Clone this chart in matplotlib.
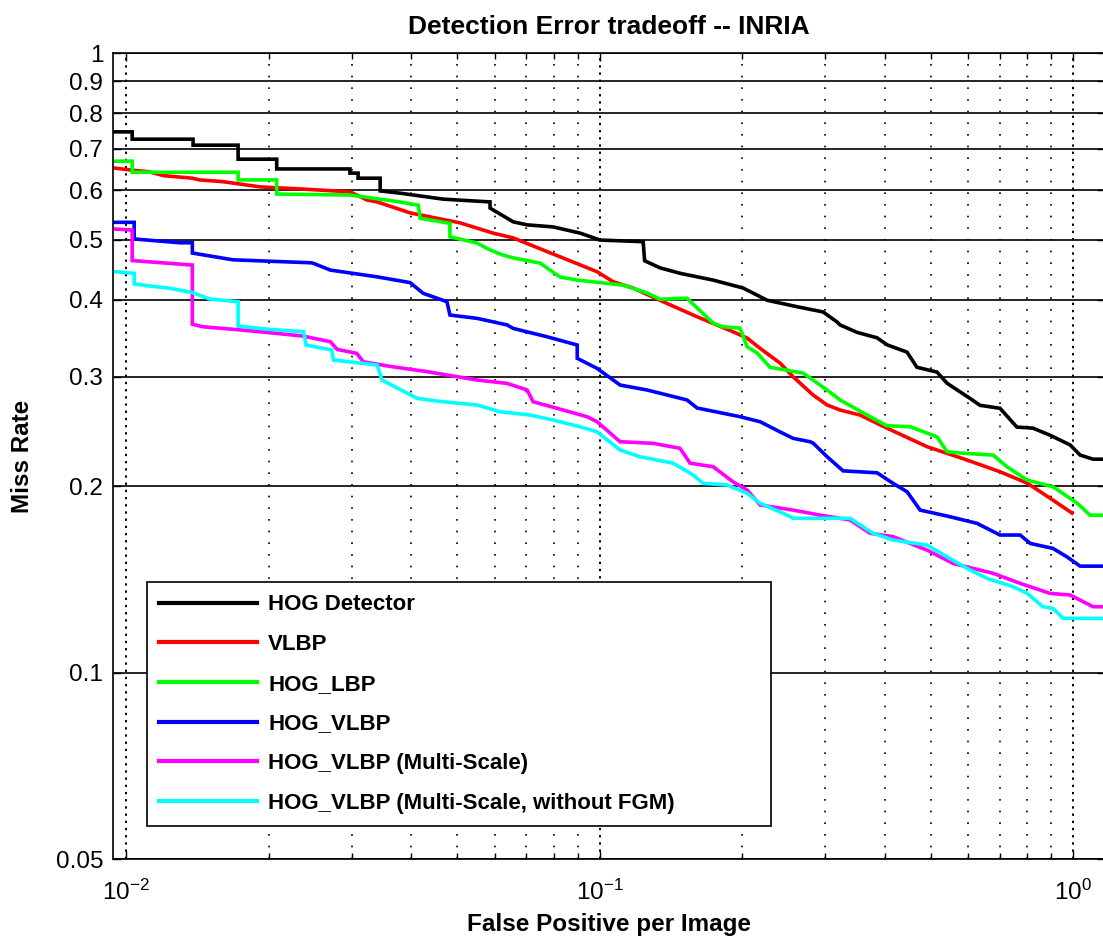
import matplotlib
matplotlib.use('Agg')
import matplotlib.pyplot as plt
from matplotlib.ticker import LogLocator, NullLocator, NullFormatter, FixedLocator

plt.rcParams['font.family'] = ['Liberation Sans', 'DejaVu Sans']

# curves (FPPI, miss rate)
hog_x = [0.009, 0.0103, 0.0103, 0.01385, 0.01385, 0.01724, 0.01724, 0.0208, 0.0208, 0.0297,
         0.0297, 0.0309, 0.0309, 0.0344, 0.0344, 0.0379, 0.0467, 0.0587, 0.0587, 0.0657,
         0.0703, 0.0798, 0.0910, 0.1002, 0.1236, 0.1245, 0.1342, 0.1479, 0.1737, 0.201,
         0.2258, 0.2613, 0.2965, 0.3174, 0.322, 0.350, 0.3855, 0.405, 0.446, 0.468,
         0.516, 0.542, 0.606, 0.636, 0.701, 0.761, 0.823, 0.894, 0.986, 1.035, 1.102, 1.25]
hog_y = [0.746, 0.746, 0.726, 0.726, 0.710, 0.710, 0.674, 0.674, 0.650, 0.650,
         0.640, 0.640, 0.628, 0.628, 0.599, 0.594, 0.581, 0.575, 0.562, 0.534,
         0.528, 0.524, 0.512, 0.499, 0.496, 0.462, 0.450, 0.441, 0.430, 0.4175,
         0.399, 0.3895, 0.382, 0.368, 0.364, 0.354, 0.347, 0.338, 0.329, 0.311,
         0.3055, 0.293, 0.277, 0.270, 0.267, 0.249, 0.248, 0.2416, 0.233, 0.2244, 0.221, 0.221]

vlbp_x = [0.009, 0.0103, 0.0112, 0.0120, 0.0138, 0.0143, 0.0160, 0.0192, 0.0237, 0.0297,
          0.0323, 0.0339, 0.0398, 0.0507, 0.0596, 0.0657, 0.0775, 0.0910, 0.0988, 0.1068,
          0.1177, 0.1362, 0.1607, 0.1913, 0.2049, 0.2183, 0.2405, 0.2563, 0.2825, 0.3024,
          0.3221, 0.3549, 0.4047, 0.4917, 0.5972, 0.701, 0.800, 0.894, 0.995]
vlbp_y = [0.655, 0.647, 0.643, 0.634, 0.628, 0.624, 0.620, 0.608, 0.603, 0.597,
          0.579, 0.575, 0.552, 0.532, 0.512, 0.503, 0.478, 0.455, 0.4436, 0.4274,
          0.4175, 0.3968, 0.3752, 0.3549, 0.3467, 0.3336, 0.3159, 0.3002, 0.2805, 0.2703,
          0.2653, 0.2604, 0.248, 0.2315, 0.2203, 0.2109, 0.2022, 0.1912, 0.1809]

lbp_x = [0.009, 0.0103, 0.0103, 0.01724, 0.01724, 0.0208, 0.0208, 0.0297, 0.0379, 0.0414,
         0.0418, 0.0483, 0.0483, 0.0551, 0.0587, 0.0625, 0.0657, 0.0749, 0.0825, 0.0897,
         0.1121, 0.1260, 0.1342, 0.1530, 0.1607, 0.1737, 0.1823, 0.1980, 0.2049, 0.2151,
         0.2291, 0.2691, 0.3024, 0.3221, 0.3672, 0.4047, 0.4527, 0.5162, 0.5419, 0.5772,
         0.678, 0.725, 0.800, 0.907, 1.020, 1.086, 1.25]
lbp_y = [0.669, 0.669, 0.642, 0.642, 0.624, 0.624, 0.592, 0.590, 0.575, 0.568,
         0.541, 0.531, 0.505, 0.4935, 0.481, 0.472, 0.467, 0.458, 0.435, 0.430,
         0.422, 0.410, 0.4005, 0.402, 0.3877, 0.3665, 0.3615, 0.3597, 0.3356, 0.328,
         0.311, 0.3043, 0.2858, 0.2754, 0.2604, 0.2502, 0.2493, 0.2401, 0.2272, 0.2261,
         0.2244, 0.2149, 0.2045, 0.1995, 0.1877, 0.1795, 0.1795]

hv_x = [0.009, 0.0104, 0.0104, 0.0130, 0.0138, 0.0138, 0.0168, 0.0245, 0.0248, 0.0270,
        0.0339, 0.0398, 0.0424, 0.0476, 0.0483, 0.0551, 0.0638, 0.0657, 0.0775, 0.0897,
        0.0897, 0.0988, 0.1105, 0.1260, 0.1530, 0.1607, 0.1980, 0.2183, 0.2405, 0.2563,
        0.2784, 0.2825, 0.3024, 0.3268, 0.3855, 0.4168, 0.4461, 0.4753, 0.5419, 0.627,
        0.701, 0.773, 0.812, 0.907, 0.971, 1.035, 1.25]
hv_y = [0.533, 0.533, 0.501, 0.494, 0.494, 0.4755, 0.4637, 0.4586, 0.458, 0.4463,
        0.4352, 0.426, 0.4094, 0.3968, 0.3776, 0.373, 0.364, 0.3593, 0.3483, 0.3378,
        0.3215, 0.3097, 0.2911, 0.2858, 0.2754, 0.2673, 0.2588, 0.254, 0.2446, 0.2388,
        0.2358, 0.2346, 0.223, 0.2116, 0.2101, 0.202, 0.1958, 0.1829, 0.1789, 0.1741,
        0.1667, 0.1667, 0.1616, 0.1586, 0.1537, 0.1485, 0.1485]

ms_x = [0.009, 0.0103, 0.0103, 0.0124, 0.0138, 0.0138, 0.01454, 0.01766, 0.0208, 0.02365,
        0.0270, 0.0279, 0.0307, 0.0317, 0.0366, 0.0432, 0.0551, 0.0638, 0.0703, 0.0724,
        0.0813, 0.0941, 0.0988, 0.1105, 0.1297, 0.1479, 0.1553, 0.1737, 0.1913, 0.2049,
        0.2183, 0.2563, 0.2923, 0.3381, 0.3726, 0.4168, 0.4917, 0.558, 0.678, 0.773,
        0.894, 0.986, 1.102, 1.25]
ms_y = [0.521, 0.518, 0.4624, 0.4575, 0.4547, 0.365, 0.3615, 0.357, 0.3527, 0.3492,
        0.342, 0.3324, 0.3275, 0.3174, 0.3115, 0.306, 0.2966, 0.2929, 0.2858, 0.2736,
        0.267, 0.2588, 0.254, 0.2358, 0.2344, 0.2301, 0.2177, 0.2149, 0.2032, 0.1971,
        0.1864, 0.1829, 0.1795, 0.1763, 0.1678, 0.1657, 0.1576, 0.15, 0.1446, 0.1393,
        0.1342, 0.1334, 0.1277, 0.1277]

fgm_x = [0.009, 0.0104, 0.0104, 0.0116, 0.0124, 0.0138, 0.0150, 0.01724, 0.01724, 0.0201,
         0.0237, 0.0240, 0.0272, 0.0274, 0.0339, 0.0347, 0.0412, 0.0467, 0.0551, 0.0616,
         0.0713, 0.0798, 0.0910, 0.0988, 0.1105, 0.1218, 0.143, 0.1576, 0.1654, 0.1859,
         0.2049, 0.2183, 0.2489, 0.2563, 0.3381, 0.3781, 0.4168, 0.4917, 0.5419, 0.5972,
         0.658, 0.747, 0.800, 0.864, 0.907, 0.953, 1.25]
fgm_y = [0.445, 0.441, 0.4237, 0.4195, 0.417, 0.4106, 0.4009, 0.3968, 0.3625, 0.358,
         0.3549, 0.3378, 0.3316, 0.3195, 0.3136, 0.2966, 0.277, 0.2736, 0.2703, 0.2636,
         0.2604, 0.2556, 0.2493, 0.2446, 0.2286, 0.223, 0.2177, 0.2084, 0.202, 0.2008,
         0.1947, 0.1876, 0.1795, 0.1774, 0.1774, 0.1678, 0.1636, 0.1606, 0.1537, 0.1473,
         0.1419, 0.1376, 0.1342, 0.1277, 0.1269, 0.1223, 0.1223]

labels = ['HOG Detector', 'VLBP', 'HOG_LBP', 'HOG_VLBP',
          'HOG_VLBP (Multi-Scale)', 'HOG_VLBP (Multi-Scale, without FGM)']
colors = ['#000000', '#ff0000', '#00ff00', '#0000ff', '#ff00ff', '#00ffff']
curves = [(hog_x, hog_y), (vlbp_x, vlbp_y), (lbp_x, lbp_y),
          (hv_x, hv_y), (ms_x, ms_y), (fgm_x, fgm_y)]

y_ticks = [0.05, 0.1, 0.2, 0.3, 0.4, 0.5, 0.6, 0.7, 0.8, 0.9, 1]
y_labels = ['0.05', '0.1', '0.2', '0.3', '0.4', '0.5', '0.6', '0.7', '0.8', '0.9', '1']
x_ticks = [0.01, 0.1, 1]
x_labels = [r'$\mathdefault{10^{-2}}$', r'$\mathdefault{10^{-1}}$', r'$\mathdefault{10^{0}}$']

fig = plt.figure(figsize=(11.03, 9.42), dpi=100)
ax = fig.add_axes([0.1024, 0.0881, 0.8994, 0.8556])

for (xs, ys), c, lab in zip(curves, colors, labels):
    ax.plot(xs, ys, color=c, lw=2.6, label=lab, solid_joinstyle='miter')

ax.set_xscale('log')
ax.set_yscale('log')
ax.set_xlim(0.00938, 1.168)
ax.set_ylim(0.05, 1)

ax.yaxis.set_major_locator(FixedLocator(y_ticks))
ax.set_yticklabels(y_labels)
ax.yaxis.set_minor_locator(NullLocator())
ax.xaxis.set_major_locator(FixedLocator(x_ticks))
ax.set_xticklabels(x_labels)
ax.xaxis.set_minor_locator(LogLocator(base=10, subs=range(2, 10)))
ax.xaxis.set_minor_formatter(NullFormatter())

ax.tick_params(which='both', direction='in', top=True, right=True, labelsize=17.5, color='k')
ax.tick_params(which='major', length=6, width=1)
ax.tick_params(which='minor', length=4, width=1)
ax.tick_params(axis='y', pad=7)
ax.tick_params(axis='x', pad=15)

ax.grid(True, which='major', axis='y', color='k', linestyle='-', linewidth=1.2)
ax.grid(True, which='minor', axis='x', color='k', linestyle=(0, (1, 6)), linewidth=1.2)
ax.grid(True, which='major', axis='x', color='k', linestyle=(0, (1.2, 2.5)), linewidth=1.4)
ax.set_axisbelow(True)

for s in ['left', 'top', 'bottom']:
    ax.spines[s].set_linewidth(1.2)
ax.spines['right'].set_visible(False)

ax.set_title('Detection Error tradeoff -- INRIA', fontsize=19, fontweight='bold', pad=14)
ax.set_xlabel('False Positive per Image', fontsize=17.5, fontweight='bold', labelpad=6)
ax.set_ylabel('Miss Rate', fontsize=17.5, fontweight='bold', labelpad=16)

leg = ax.legend(loc='lower left', bbox_to_anchor=(0.0343, 0.0409, 0.629, 0.3), mode='expand',
                borderaxespad=0, prop={'weight': 'bold', 'size': 16},
                handlelength=4.4, handletextpad=0.5, labelspacing=0.84, borderpad=0.55,
                fancybox=False, framealpha=1, edgecolor='k')
leg.get_frame().set_linewidth(1.2)
for line in leg.get_lines():
    line.set_linewidth(3)

fig.savefig('out.png', dpi=100)
